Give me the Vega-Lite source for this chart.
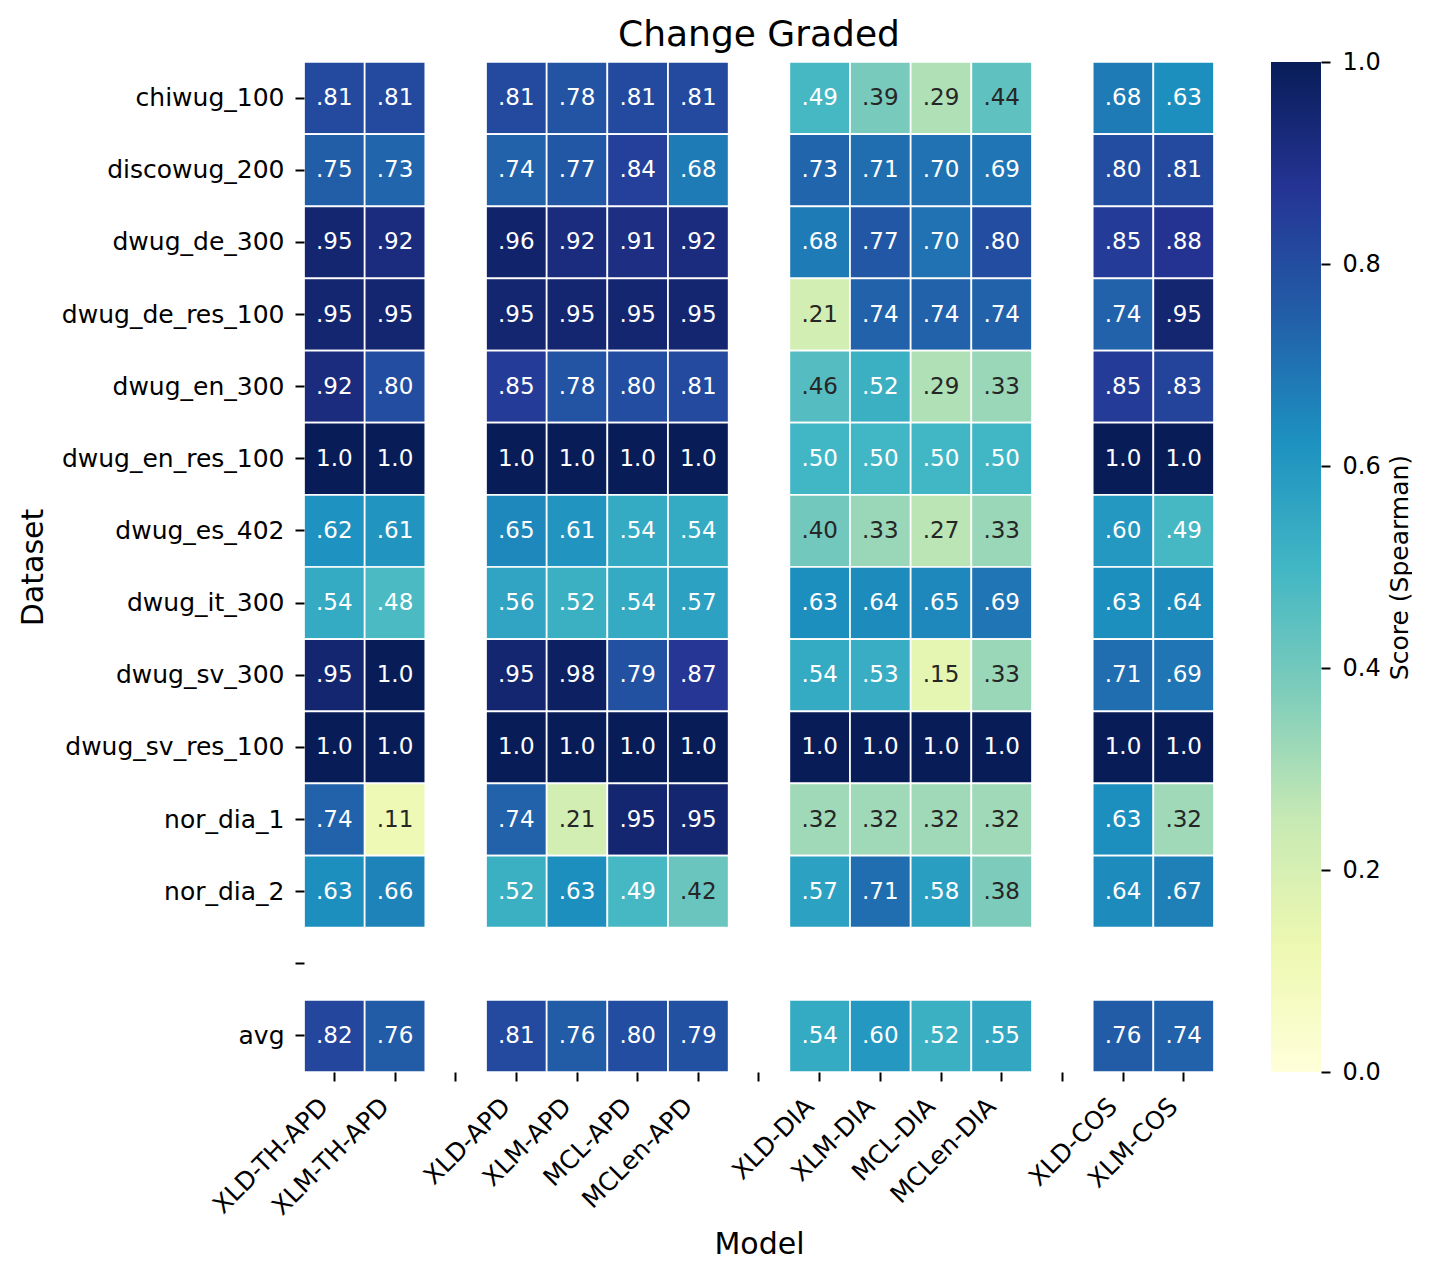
{
  "$schema": "https://vega.github.io/schema/vega-lite/v6.json",
  "autosize": {"type": "pad"},
  "padding": {"left": 18, "top": 17, "right": 0, "bottom": 10},
  "background": "white",
  "bounds": "flush",
  "spacing": 57,
  "hconcat": [
    {
      "width": 910,
      "height": 1010,
      "title": {"text": "Change Graded", "fontSize": 36, "fontWeight": "normal", "font": "DejaVu Sans", "color": "black", "frame": "group", "anchor": "middle", "baseline": "bottom", "offset": -29},
      "data": {"values": [
        {"d":"chiwug_100","m":"XLD-TH-APD","v":0.81,"t":".81"},
        {"d":"chiwug_100","m":"XLM-TH-APD","v":0.81,"t":".81"},
        {"d":"chiwug_100","m":"XLD-APD","v":0.81,"t":".81"},
        {"d":"chiwug_100","m":"XLM-APD","v":0.78,"t":".78"},
        {"d":"chiwug_100","m":"MCL-APD","v":0.81,"t":".81"},
        {"d":"chiwug_100","m":"MCLen-APD","v":0.81,"t":".81"},
        {"d":"chiwug_100","m":"XLD-DIA","v":0.49,"t":".49"},
        {"d":"chiwug_100","m":"XLM-DIA","v":0.39,"t":".39"},
        {"d":"chiwug_100","m":"MCL-DIA","v":0.29,"t":".29"},
        {"d":"chiwug_100","m":"MCLen-DIA","v":0.44,"t":".44"},
        {"d":"chiwug_100","m":"XLD-COS","v":0.68,"t":".68"},
        {"d":"chiwug_100","m":"XLM-COS","v":0.63,"t":".63"},

        {"d":"discowug_200","m":"XLD-TH-APD","v":0.75,"t":".75"},
        {"d":"discowug_200","m":"XLM-TH-APD","v":0.73,"t":".73"},
        {"d":"discowug_200","m":"XLD-APD","v":0.74,"t":".74"},
        {"d":"discowug_200","m":"XLM-APD","v":0.77,"t":".77"},
        {"d":"discowug_200","m":"MCL-APD","v":0.84,"t":".84"},
        {"d":"discowug_200","m":"MCLen-APD","v":0.68,"t":".68"},
        {"d":"discowug_200","m":"XLD-DIA","v":0.73,"t":".73"},
        {"d":"discowug_200","m":"XLM-DIA","v":0.71,"t":".71"},
        {"d":"discowug_200","m":"MCL-DIA","v":0.70,"t":".70"},
        {"d":"discowug_200","m":"MCLen-DIA","v":0.69,"t":".69"},
        {"d":"discowug_200","m":"XLD-COS","v":0.80,"t":".80"},
        {"d":"discowug_200","m":"XLM-COS","v":0.81,"t":".81"},

        {"d":"dwug_de_300","m":"XLD-TH-APD","v":0.95,"t":".95"},
        {"d":"dwug_de_300","m":"XLM-TH-APD","v":0.92,"t":".92"},
        {"d":"dwug_de_300","m":"XLD-APD","v":0.96,"t":".96"},
        {"d":"dwug_de_300","m":"XLM-APD","v":0.92,"t":".92"},
        {"d":"dwug_de_300","m":"MCL-APD","v":0.91,"t":".91"},
        {"d":"dwug_de_300","m":"MCLen-APD","v":0.92,"t":".92"},
        {"d":"dwug_de_300","m":"XLD-DIA","v":0.68,"t":".68"},
        {"d":"dwug_de_300","m":"XLM-DIA","v":0.77,"t":".77"},
        {"d":"dwug_de_300","m":"MCL-DIA","v":0.70,"t":".70"},
        {"d":"dwug_de_300","m":"MCLen-DIA","v":0.80,"t":".80"},
        {"d":"dwug_de_300","m":"XLD-COS","v":0.85,"t":".85"},
        {"d":"dwug_de_300","m":"XLM-COS","v":0.88,"t":".88"},

        {"d":"dwug_de_res_100","m":"XLD-TH-APD","v":0.95,"t":".95"},
        {"d":"dwug_de_res_100","m":"XLM-TH-APD","v":0.95,"t":".95"},
        {"d":"dwug_de_res_100","m":"XLD-APD","v":0.95,"t":".95"},
        {"d":"dwug_de_res_100","m":"XLM-APD","v":0.95,"t":".95"},
        {"d":"dwug_de_res_100","m":"MCL-APD","v":0.95,"t":".95"},
        {"d":"dwug_de_res_100","m":"MCLen-APD","v":0.95,"t":".95"},
        {"d":"dwug_de_res_100","m":"XLD-DIA","v":0.21,"t":".21"},
        {"d":"dwug_de_res_100","m":"XLM-DIA","v":0.74,"t":".74"},
        {"d":"dwug_de_res_100","m":"MCL-DIA","v":0.74,"t":".74"},
        {"d":"dwug_de_res_100","m":"MCLen-DIA","v":0.74,"t":".74"},
        {"d":"dwug_de_res_100","m":"XLD-COS","v":0.74,"t":".74"},
        {"d":"dwug_de_res_100","m":"XLM-COS","v":0.95,"t":".95"},

        {"d":"dwug_en_300","m":"XLD-TH-APD","v":0.92,"t":".92"},
        {"d":"dwug_en_300","m":"XLM-TH-APD","v":0.80,"t":".80"},
        {"d":"dwug_en_300","m":"XLD-APD","v":0.85,"t":".85"},
        {"d":"dwug_en_300","m":"XLM-APD","v":0.78,"t":".78"},
        {"d":"dwug_en_300","m":"MCL-APD","v":0.80,"t":".80"},
        {"d":"dwug_en_300","m":"MCLen-APD","v":0.81,"t":".81"},
        {"d":"dwug_en_300","m":"XLD-DIA","v":0.46,"t":".46"},
        {"d":"dwug_en_300","m":"XLM-DIA","v":0.52,"t":".52"},
        {"d":"dwug_en_300","m":"MCL-DIA","v":0.29,"t":".29"},
        {"d":"dwug_en_300","m":"MCLen-DIA","v":0.33,"t":".33"},
        {"d":"dwug_en_300","m":"XLD-COS","v":0.85,"t":".85"},
        {"d":"dwug_en_300","m":"XLM-COS","v":0.83,"t":".83"},

        {"d":"dwug_en_res_100","m":"XLD-TH-APD","v":1.0,"t":"1.0"},
        {"d":"dwug_en_res_100","m":"XLM-TH-APD","v":1.0,"t":"1.0"},
        {"d":"dwug_en_res_100","m":"XLD-APD","v":1.0,"t":"1.0"},
        {"d":"dwug_en_res_100","m":"XLM-APD","v":1.0,"t":"1.0"},
        {"d":"dwug_en_res_100","m":"MCL-APD","v":1.0,"t":"1.0"},
        {"d":"dwug_en_res_100","m":"MCLen-APD","v":1.0,"t":"1.0"},
        {"d":"dwug_en_res_100","m":"XLD-DIA","v":0.50,"t":".50"},
        {"d":"dwug_en_res_100","m":"XLM-DIA","v":0.50,"t":".50"},
        {"d":"dwug_en_res_100","m":"MCL-DIA","v":0.50,"t":".50"},
        {"d":"dwug_en_res_100","m":"MCLen-DIA","v":0.50,"t":".50"},
        {"d":"dwug_en_res_100","m":"XLD-COS","v":1.0,"t":"1.0"},
        {"d":"dwug_en_res_100","m":"XLM-COS","v":1.0,"t":"1.0"},

        {"d":"dwug_es_402","m":"XLD-TH-APD","v":0.62,"t":".62"},
        {"d":"dwug_es_402","m":"XLM-TH-APD","v":0.61,"t":".61"},
        {"d":"dwug_es_402","m":"XLD-APD","v":0.65,"t":".65"},
        {"d":"dwug_es_402","m":"XLM-APD","v":0.61,"t":".61"},
        {"d":"dwug_es_402","m":"MCL-APD","v":0.54,"t":".54"},
        {"d":"dwug_es_402","m":"MCLen-APD","v":0.54,"t":".54"},
        {"d":"dwug_es_402","m":"XLD-DIA","v":0.40,"t":".40"},
        {"d":"dwug_es_402","m":"XLM-DIA","v":0.33,"t":".33"},
        {"d":"dwug_es_402","m":"MCL-DIA","v":0.27,"t":".27"},
        {"d":"dwug_es_402","m":"MCLen-DIA","v":0.33,"t":".33"},
        {"d":"dwug_es_402","m":"XLD-COS","v":0.60,"t":".60"},
        {"d":"dwug_es_402","m":"XLM-COS","v":0.49,"t":".49"},

        {"d":"dwug_it_300","m":"XLD-TH-APD","v":0.54,"t":".54"},
        {"d":"dwug_it_300","m":"XLM-TH-APD","v":0.48,"t":".48"},
        {"d":"dwug_it_300","m":"XLD-APD","v":0.56,"t":".56"},
        {"d":"dwug_it_300","m":"XLM-APD","v":0.52,"t":".52"},
        {"d":"dwug_it_300","m":"MCL-APD","v":0.54,"t":".54"},
        {"d":"dwug_it_300","m":"MCLen-APD","v":0.57,"t":".57"},
        {"d":"dwug_it_300","m":"XLD-DIA","v":0.63,"t":".63"},
        {"d":"dwug_it_300","m":"XLM-DIA","v":0.64,"t":".64"},
        {"d":"dwug_it_300","m":"MCL-DIA","v":0.65,"t":".65"},
        {"d":"dwug_it_300","m":"MCLen-DIA","v":0.69,"t":".69"},
        {"d":"dwug_it_300","m":"XLD-COS","v":0.63,"t":".63"},
        {"d":"dwug_it_300","m":"XLM-COS","v":0.64,"t":".64"},

        {"d":"dwug_sv_300","m":"XLD-TH-APD","v":0.95,"t":".95"},
        {"d":"dwug_sv_300","m":"XLM-TH-APD","v":1.0,"t":"1.0"},
        {"d":"dwug_sv_300","m":"XLD-APD","v":0.95,"t":".95"},
        {"d":"dwug_sv_300","m":"XLM-APD","v":0.98,"t":".98"},
        {"d":"dwug_sv_300","m":"MCL-APD","v":0.79,"t":".79"},
        {"d":"dwug_sv_300","m":"MCLen-APD","v":0.87,"t":".87"},
        {"d":"dwug_sv_300","m":"XLD-DIA","v":0.54,"t":".54"},
        {"d":"dwug_sv_300","m":"XLM-DIA","v":0.53,"t":".53"},
        {"d":"dwug_sv_300","m":"MCL-DIA","v":0.15,"t":".15"},
        {"d":"dwug_sv_300","m":"MCLen-DIA","v":0.33,"t":".33"},
        {"d":"dwug_sv_300","m":"XLD-COS","v":0.71,"t":".71"},
        {"d":"dwug_sv_300","m":"XLM-COS","v":0.69,"t":".69"},

        {"d":"dwug_sv_res_100","m":"XLD-TH-APD","v":1.0,"t":"1.0"},
        {"d":"dwug_sv_res_100","m":"XLM-TH-APD","v":1.0,"t":"1.0"},
        {"d":"dwug_sv_res_100","m":"XLD-APD","v":1.0,"t":"1.0"},
        {"d":"dwug_sv_res_100","m":"XLM-APD","v":1.0,"t":"1.0"},
        {"d":"dwug_sv_res_100","m":"MCL-APD","v":1.0,"t":"1.0"},
        {"d":"dwug_sv_res_100","m":"MCLen-APD","v":1.0,"t":"1.0"},
        {"d":"dwug_sv_res_100","m":"XLD-DIA","v":1.0,"t":"1.0"},
        {"d":"dwug_sv_res_100","m":"XLM-DIA","v":1.0,"t":"1.0"},
        {"d":"dwug_sv_res_100","m":"MCL-DIA","v":1.0,"t":"1.0"},
        {"d":"dwug_sv_res_100","m":"MCLen-DIA","v":1.0,"t":"1.0"},
        {"d":"dwug_sv_res_100","m":"XLD-COS","v":1.0,"t":"1.0"},
        {"d":"dwug_sv_res_100","m":"XLM-COS","v":1.0,"t":"1.0"},

        {"d":"nor_dia_1","m":"XLD-TH-APD","v":0.74,"t":".74"},
        {"d":"nor_dia_1","m":"XLM-TH-APD","v":0.11,"t":".11"},
        {"d":"nor_dia_1","m":"XLD-APD","v":0.74,"t":".74"},
        {"d":"nor_dia_1","m":"XLM-APD","v":0.21,"t":".21"},
        {"d":"nor_dia_1","m":"MCL-APD","v":0.95,"t":".95"},
        {"d":"nor_dia_1","m":"MCLen-APD","v":0.95,"t":".95"},
        {"d":"nor_dia_1","m":"XLD-DIA","v":0.32,"t":".32"},
        {"d":"nor_dia_1","m":"XLM-DIA","v":0.32,"t":".32"},
        {"d":"nor_dia_1","m":"MCL-DIA","v":0.32,"t":".32"},
        {"d":"nor_dia_1","m":"MCLen-DIA","v":0.32,"t":".32"},
        {"d":"nor_dia_1","m":"XLD-COS","v":0.63,"t":".63"},
        {"d":"nor_dia_1","m":"XLM-COS","v":0.32,"t":".32"},

        {"d":"nor_dia_2","m":"XLD-TH-APD","v":0.63,"t":".63"},
        {"d":"nor_dia_2","m":"XLM-TH-APD","v":0.66,"t":".66"},
        {"d":"nor_dia_2","m":"XLD-APD","v":0.52,"t":".52"},
        {"d":"nor_dia_2","m":"XLM-APD","v":0.63,"t":".63"},
        {"d":"nor_dia_2","m":"MCL-APD","v":0.49,"t":".49"},
        {"d":"nor_dia_2","m":"MCLen-APD","v":0.42,"t":".42"},
        {"d":"nor_dia_2","m":"XLD-DIA","v":0.57,"t":".57"},
        {"d":"nor_dia_2","m":"XLM-DIA","v":0.71,"t":".71"},
        {"d":"nor_dia_2","m":"MCL-DIA","v":0.58,"t":".58"},
        {"d":"nor_dia_2","m":"MCLen-DIA","v":0.38,"t":".38"},
        {"d":"nor_dia_2","m":"XLD-COS","v":0.64,"t":".64"},
        {"d":"nor_dia_2","m":"XLM-COS","v":0.67,"t":".67"},

        {"d":"avg","m":"XLD-TH-APD","v":0.82,"t":".82"},
        {"d":"avg","m":"XLM-TH-APD","v":0.76,"t":".76"},
        {"d":"avg","m":"XLD-APD","v":0.81,"t":".81"},
        {"d":"avg","m":"XLM-APD","v":0.76,"t":".76"},
        {"d":"avg","m":"MCL-APD","v":0.80,"t":".80"},
        {"d":"avg","m":"MCLen-APD","v":0.79,"t":".79"},
        {"d":"avg","m":"XLD-DIA","v":0.54,"t":".54"},
        {"d":"avg","m":"XLM-DIA","v":0.60,"t":".60"},
        {"d":"avg","m":"MCL-DIA","v":0.52,"t":".52"},
        {"d":"avg","m":"MCLen-DIA","v":0.55,"t":".55"},
        {"d":"avg","m":"XLD-COS","v":0.76,"t":".76"},
        {"d":"avg","m":"XLM-COS","v":0.74,"t":".74"}
      ]},
      "encoding": {
        "x": {
          "field": "m", "type": "nominal",
          "scale": {"domain": ["XLD-TH-APD","XLM-TH-APD","sep1","XLD-APD","XLM-APD","MCL-APD","MCLen-APD","sep2","XLD-DIA","XLM-DIA","MCL-DIA","MCLen-DIA","sep3","XLD-COS","XLM-COS"], "paddingInner": 0, "paddingOuter": 0},
          "axis": {
            "title": "Model", "titleFontSize": 30, "titleFontWeight": "normal", "titleColor": "black", "titleY": 157,
            "labelExpr": "indexof(datum.label, 'sep') == 0 ? '' : datum.label",
            "labelAngle": -45, "labelAlign": "right", "labelBaseline": "middle", "labelOffset": -10, "labelPadding": 21,
            "labelFontSize": 25, "labelColor": "black", "labelOverlap": false, "labelLimit": 400, "labelBound": false,
            "tickSize": 9, "tickWidth": 2, "tickColor": "black", "domain": false, "grid": false
          }
        },
        "y": {
          "field": "d", "type": "nominal",
          "scale": {"domain": ["chiwug_100","discowug_200","dwug_de_300","dwug_de_res_100","dwug_en_300","dwug_en_res_100","dwug_es_402","dwug_it_300","dwug_sv_300","dwug_sv_res_100","nor_dia_1","nor_dia_2","sepr","avg"], "paddingInner": 0, "paddingOuter": 0},
          "axis": {
            "title": "Dataset", "titleFontSize": 30, "titleFontWeight": "normal", "titleColor": "black", "titleX": -256,
            "labelExpr": "datum.label == 'sepr' ? '' : datum.label",
            "labelFontSize": 25, "labelColor": "black", "labelPadding": 11, "labelLimit": 400, "labelOverlap": false,
            "tickSize": 9, "tickWidth": 2, "tickColor": "black", "domain": false, "grid": false
          }
        }
      },
      "layer": [
        {
          "mark": {"type": "rect", "stroke": "white", "strokeWidth": 1.7},
          "encoding": {
            "color": {
              "field": "v", "type": "quantitative",
              "scale": {"domain": [0, 0.125, 0.25, 0.375, 0.5, 0.625, 0.75, 0.875, 1], "range": ["#ffffd9", "#edf8b1", "#c7e9b4", "#7fcdbb", "#41b6c4", "#1d91c0", "#225ea8", "#253494", "#081d58"], "interpolate": "rgb"},
              "legend": null
            }
          }
        },
        {
          "mark": {"type": "text", "fontSize": 23, "font": "DejaVu Sans", "align": "center", "baseline": "middle"},
          "encoding": {
            "text": {"field": "t", "type": "nominal"},
            "color": {"condition": {"test": "datum.v > 0.465", "value": "white"}, "value": "#262626"}
          }
        }
      ]
    },
    {
      "width": 50,
      "height": 1010,
      "data": {"values": [{"lo": 0, "hi": 1}]},
      "mark": {
        "type": "rect",
        "strokeWidth": 0,
        "color": {
          "gradient": "linear", "x1": 0, "y1": 1, "x2": 0, "y2": 0,
          "stops": [
            {"offset": 0, "color": "#ffffd9"},
            {"offset": 0.125, "color": "#edf8b1"},
            {"offset": 0.25, "color": "#c7e9b4"},
            {"offset": 0.375, "color": "#7fcdbb"},
            {"offset": 0.5, "color": "#41b6c4"},
            {"offset": 0.625, "color": "#1d91c0"},
            {"offset": 0.75, "color": "#225ea8"},
            {"offset": 0.875, "color": "#253494"},
            {"offset": 1, "color": "#081d58"}
          ]
        }
      },
      "encoding": {
        "y": {
          "field": "lo", "type": "quantitative",
          "scale": {"domain": [0, 1], "nice": false, "zero": false},
          "axis": {
            "orient": "right", "title": "Score (Spearman)", "titleAngle": 270, "titleX": 78, "titleBaseline": "middle", "titleAlign": "center",
            "titleFontSize": 25, "titleFontWeight": "normal", "titleColor": "black",
            "values": [0, 0.2, 0.4, 0.6, 0.8, 1.0], "format": ".1f",
            "labelFontSize": 24, "labelColor": "black", "labelPadding": 12, "labelOverlap": false, "labelFlush": false,
            "tickSize": 9, "tickWidth": 2, "tickColor": "black", "domain": false, "grid": false
          }
        },
        "y2": {"field": "hi"}
      }
    }
  ],
  "config": {
    "font": "DejaVu Sans",
    "view": {"stroke": null},
    "axis": {"labelFont": "DejaVu Sans", "titleFont": "DejaVu Sans"}
  }
}
